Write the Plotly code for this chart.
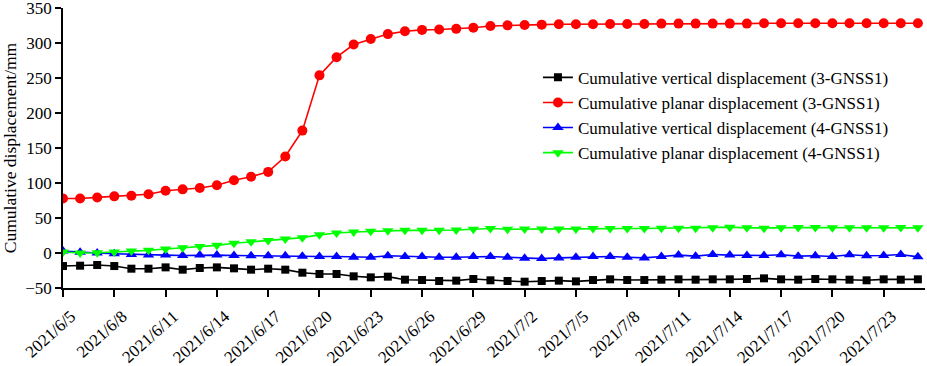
import pandas as pd
import plotly.graph_objects as go

dates = [d.strftime("%Y-%m-%d") for d in pd.date_range("2021-06-05", "2021-07-25", freq="D")]

vert_3 = [-18.6, -18.1, -17.1, -18.6, -22.4, -22.4, -20.5, -23.8, -21.4, -20.5,
          -21.9, -23.8, -22.4, -23.8, -28.1, -30.0, -30.0, -33.3, -34.8, -33.8,
          -38.1, -38.6, -40.0, -39.5, -37.1, -39.0, -40.0, -41.0, -40.0, -39.5,
          -40.5, -38.6, -37.6, -38.6, -38.6, -38.1, -37.6, -38.1, -37.6, -37.6,
          -37.1, -36.2, -37.6, -38.1, -37.1, -37.6, -38.1, -39.0, -37.6, -38.1, -37.6]

planar_3 = [78, 78, 79.5, 81, 82, 84, 89, 91, 93, 97,
            104, 109, 116, 138, 175, 254, 280, 298, 306, 313,
            317, 319, 319.5, 320.5, 322, 324.5, 325.5, 326, 326.5, 327,
            327, 327, 327.5, 327.5, 327.5, 328, 328, 328, 328, 328,
            328, 328.5, 328.5, 328.5, 328.5, 328.5, 328.5, 328.5, 328.5, 328.5, 328.5]

vert_4 = [3, 1, 0, -1, -2, -3, -3, -3.5, -3, -3,
          -3.5, -4, -4, -4, -4.5, -5, -5, -6, -6, -4,
          -5, -5, -6, -6, -5, -5, -6, -7.5, -8, -7,
          -6, -5, -5, -6, -7, -5, -3, -4.5, -2, -3,
          -3.5, -3.5, -2.5, -4.5, -4, -5, -2.5, -4, -3.5, -2, -5.5]

planar_4 = [1.4, 0, 0.5, 1.4, 2.9, 3.8, 5.7, 7.6, 9.5, 11,
            14, 16, 18, 20, 22, 26, 28.6, 30, 31, 32,
            32.4, 32.4, 32.5, 33, 34, 35, 34, 34.5, 34.5, 34.5,
            34.5, 35, 35, 35, 35, 35.5, 35.5, 35.5, 36, 37,
            36, 35.5, 36, 36.5, 36.5, 36, 36, 36, 36, 36.5, 36]

tick_dates = ["2021-06-05", "2021-06-08", "2021-06-11", "2021-06-14", "2021-06-17",
              "2021-06-20", "2021-06-23", "2021-06-26", "2021-06-29", "2021-07-02",
              "2021-07-05", "2021-07-08", "2021-07-11", "2021-07-14", "2021-07-17",
              "2021-07-20", "2021-07-23"]
tick_labels = ["2021/6/5", "2021/6/8", "2021/6/11", "2021/6/14", "2021/6/17",
               "2021/6/20", "2021/6/23", "2021/6/26", "2021/6/29", "2021/7/2",
               "2021/7/5", "2021/7/8", "2021/7/11", "2021/7/14", "2021/7/17",
               "2021/7/20", "2021/7/23"]

series = [
    ("Cumulative vertical displacement (3-GNSS1)", vert_3, "#000000", "square", 8),
    ("Cumulative planar displacement (3-GNSS1)", planar_3, "#ff0000", "circle", 10),
    ("Cumulative vertical displacement (4-GNSS1)", vert_4, "#0000ff", "triangle-up", 10),
    ("Cumulative planar displacement (4-GNSS1)", planar_4, "#00ff00", "triangle-down", 10),
]

fig = go.Figure()
for name, vals, col, sym, sz in series:
    fig.add_trace(go.Scatter(
        x=dates, y=vals, name=name, mode="lines+markers",
        line=dict(color=col, width=1.6),
        marker=dict(symbol=sym, size=sz, color=col),
    ))

font = "Times New Roman, Liberation Serif, serif"
fig.update_layout(
    width=927, height=366,
    margin=dict(l=63, r=2, t=8, b=78),
    paper_bgcolor="white", plot_bgcolor="white",
    font=dict(family=font, size=17, color="black"),
    showlegend=True,
    legend=dict(x=0.551, y=0.815, xanchor="left", yanchor="top",
                bgcolor="rgba(0,0,0,0)", font=dict(size=17, family=font),
                tracegroupgap=0, itemwidth=30),
    xaxis=dict(
        type="date", automargin=False,
        range=["2021-06-05", "2021-07-25 10:00"],
        tickvals=tick_dates, ticktext=tick_labels, tickangle=-42,
        showline=True, linecolor="black", linewidth=1.5,
        ticks="outside", ticklen=7, tickcolor="black", tickwidth=1.5,
        showgrid=False, zeroline=False,
        tickfont=dict(size=17, family=font),
        ticklabeloverflow="allow",
        ticklabelshift=8, ticklabelstandoff=3,
    ),
    yaxis=dict(
        automargin=False,
        range=[-50, 350.3], tickvals=[-50, 0, 50, 100, 150, 200, 250, 300, 350],
        showline=True, linecolor="black", linewidth=1.5,
        ticks="outside", ticklen=6, tickcolor="black", tickwidth=1.5,
        showgrid=False, zeroline=False,
        title=dict(text="Cumulative displacement/mm", font=dict(size=17.5, family=font), standoff=4),
        tickfont=dict(size=17, family=font),
        ticklabeloverflow="allow",
    ),
)

fig.write_html("out.html", config={"displayModeBar": False},
               post_script="document.body.style.margin='0';")
